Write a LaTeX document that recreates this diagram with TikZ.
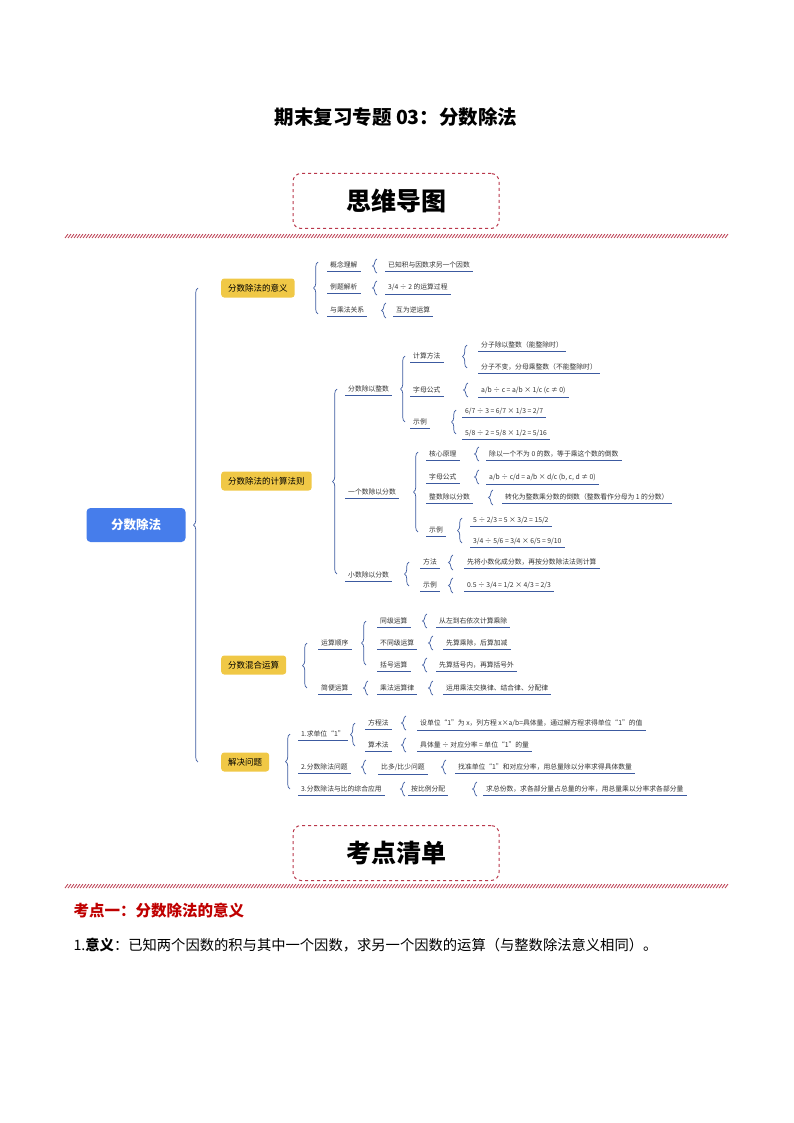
\documentclass[tikz,border=0pt]{standalone}
\usepackage{fontspec}
\setmainfont{Noto Sans CJK SC}
\usetikzlibrary{decorations.pathreplacing}
\definecolor{mred}{RGB}{185,55,75}
\definecolor{lblue}{RGB}{60,90,160}
\definecolor{rootb}{RGB}{70,125,235}
\definecolor{yel}{RGB}{240,200,70}
\begin{document}
\begin{tikzpicture}[x=1pt,y=-1pt,
  ul/.style={draw=lblue,line width=0.7pt},
  itm/.style={anchor=west,font=\fontsize{6.8}{7.5}\selectfont,text=black!80,inner xsep=3pt,inner ysep=3.3pt,
    append after command={(\tikzlastnode.south west) edge[ul] (\tikzlastnode.south east)}},
  br/.style={draw=lblue,line width=0.7pt,decorate,decoration={brace,amplitude=4.5pt}},
  ybox/.style={anchor=west,fill=yel,rounded corners=3pt,font=\fontsize{8.5}{9.5}\selectfont,text=black,minimum height=19pt,inner xsep=7pt},
  hbox/.style={draw=mred,dashed,line width=1pt,rounded corners=8pt,minimum width=206pt,minimum height=55pt,font=\fontsize{25}{27}\selectfont\bfseries}]
\useasboundingbox (0,0) rectangle (794,1123);
\newcommand{\brc}[3]{\draw[br] (#1,#3) -- (#1,#2);}
\newcommand{\band}[1]{\foreach \i in {0,3,...,660}{\draw[mred,line width=0.8pt] (65+\i,#1+4)--(68+\i,#1);}}
% headings
\node[font=\fontsize{19.5}{21}\selectfont\bfseries] (title) at (396,117) {期末复习专题 03：分数除法};
\node[hbox] (h1) at (396,201) {思维导图};
\band{234}
\node[hbox] (h2) at (396,853) {考点清单};
\band{884}
\node[anchor=west,font=\fontsize{15.5}{17}\selectfont\bfseries,text=red!75!black] (k1) at (70,911) {考点一：分数除法的意义};
\node[anchor=west,font=\fontsize{14.3}{16}\selectfont] (k2) at (70,945) {1.\textbf{意义}：已知两个因数的积与其中一个因数，求另一个因数的运算（与整数除法意义相同）。};
% root
\node[fill=rootb,rounded corners=4pt,text=white,font=\fontsize{12.5}{14}\selectfont\bfseries,minimum width=99pt,minimum height=34pt] (root) at (136,525) {分数除法};
\brc{198}{288}{762}
\node[ybox] (A) at (221,288) {分数除法的意义};
\node[ybox] (B) at (221,481) {分数除法的计算法则};
\node[ybox] (C) at (221,665) {分数混合运算};
\node[ybox] (D) at (221,762) {解决问题};
% group A
\brc{318}{262}{314}
\node[itm] (a1) at (327,265) {概念理解};
\node[itm] (a2) at (327,287) {例题解析};
\node[itm] (a3) at (327,310) {与乘法关系};
\brc{377}{259}{273}\node[itm] (a11) at (385,265) {已知积与因数求另一个因数};
\brc{377}{281}{295}\node[itm] (a21) at (385,287) {3/4 ÷ 2 的运算过程};
\brc{386}{303}{318}\node[itm] (a31) at (393,310) {互为逆运算};
% group B
\brc{337}{389}{574}
\node[itm] (b1) at (345,389) {分数除以整数};
\node[itm] (b2) at (345,492) {一个数除以分数};
\node[itm] (b3) at (345,575) {小数除以分数};
\brc{405}{356}{422}
\node[itm] (b11) at (410,356) {计算方法};
\node[itm] (b12) at (410,390) {字母公式};
\node[itm] (b13) at (410,422) {示例};
\brc{467}{345}{368}
\node[itm] (b111) at (478,345) {分子除以整数（能整除时）};
\node[itm] (b112) at (478,367) {分子不变，分母乘整数（不能整除时）};
\brc{468}{383}{397}\node[itm] (b121) at (478,390) {a/b ÷ c = a/b × 1/c (c ≠ 0)};
\brc{456}{410}{434}
\node[itm] (b131) at (462,411) {6/7 ÷ 3 = 6/7 × 1/3 = 2/7};
\node[itm] (b132) at (462,433) {5/8 ÷ 2 = 5/8 × 1/2 = 5/16};
\brc{418}{452}{532}
\node[itm] (b21) at (426,454) {核心原理};
\node[itm] (b22) at (426,477) {字母公式};
\node[itm] (b23) at (426,497) {整数除以分数};
\node[itm] (b24) at (426,530) {示例};
\brc{479}{447}{461}\node[itm] (b211) at (486,454) {除以一个不为 0 的数，等于乘这个数的倒数};
\brc{479}{470}{484}\node[itm] (b221) at (486,477) {a/b ÷ c/d = a/b × d/c (b, c, d ≠ 0)};
\brc{493}{490}{505}\node[itm] (b231) at (502,497) {转化为整数乘分数的倒数（整数看作分母为 1 的分数）};
\brc{462}{518}{543}
\node[itm] (b241) at (470,520) {5 ÷ 2/3 = 5 × 3/2 = 15/2};
\node[itm] (b242) at (470,541) {3/4 ÷ 5/6 = 3/4 × 6/5 = 9/10};
\brc{409}{562}{586}
\node[itm] (b31) at (420,562) {方法};
\node[itm] (b32) at (420,585) {示例};
\brc{453}{555}{570}\node[itm] (b311) at (464,562) {先将小数化成分数，再按分数除法法则计算};
\brc{453}{578}{593}\node[itm] (b321) at (464,585) {0.5 ÷ 3/4 = 1/2 × 4/3 = 2/3};
% group C
\brc{307}{643}{688}
\node[itm] (c1) at (318,643) {运算顺序};
\node[itm] (c2) at (318,688) {简便运算};
\brc{366}{621}{665}
\node[itm] (c11) at (377,621) {同级运算};
\node[itm] (c12) at (377,643) {不同级运算};
\node[itm] (c13) at (377,665) {括号运算};
\brc{427}{614}{628}\node[itm] (c111) at (436,621) {从左到右依次计算乘除};
\brc{433}{636}{650}\node[itm] (c121) at (443,643) {先算乘除，后算加减};
\brc{427}{658}{672}\node[itm] (c131) at (436,665) {先算括号内，再算括号外};
\brc{368}{681}{695}\node[itm] (c21) at (377,688) {乘法运算律};
\brc{433}{681}{695}\node[itm] (c211) at (443,688) {运用乘法交换律、结合律、分配律};
% group D
\brc{290}{734}{789}
\node[itm] (d1) at (298,734) {1.求单位“1”};
\node[itm] (d2) at (298,767) {2.分数除法问题};
\node[itm] (d3) at (298,789) {3.分数除法与比的综合应用};
\brc{355}{723}{746}
\node[itm] (d11) at (365,723) {方程法};
\node[itm] (d12) at (365,745) {算术法};
\brc{406}{716}{730}\node[itm] (d111) at (417,723) {设单位“1”为 \textit{x}，列方程 \textit{x}×\textit{a}/\textit{b}=具体量，通过解方程求得单位“1”的值};
\brc{406}{738}{752}\node[itm] (d121) at (417,745) {具体量 ÷ 对应分率 = 单位“1”的量};
\brc{366}{760}{774}\node[itm] (d21) at (378,767) {比多/比少问题};
\brc{446}{760}{774}\node[itm] (d211) at (455,767) {找准单位“1”和对应分率，用总量除以分率求得具体数量};
\brc{405}{782}{796}\node[itm] (d31) at (408,789) {按比例分配};
\brc{477}{782}{796}\node[itm] (d311) at (483,789) {求总份数，求各部分量占总量的分率，用总量乘以分率求各部分量};
\end{tikzpicture}
\end{document}
